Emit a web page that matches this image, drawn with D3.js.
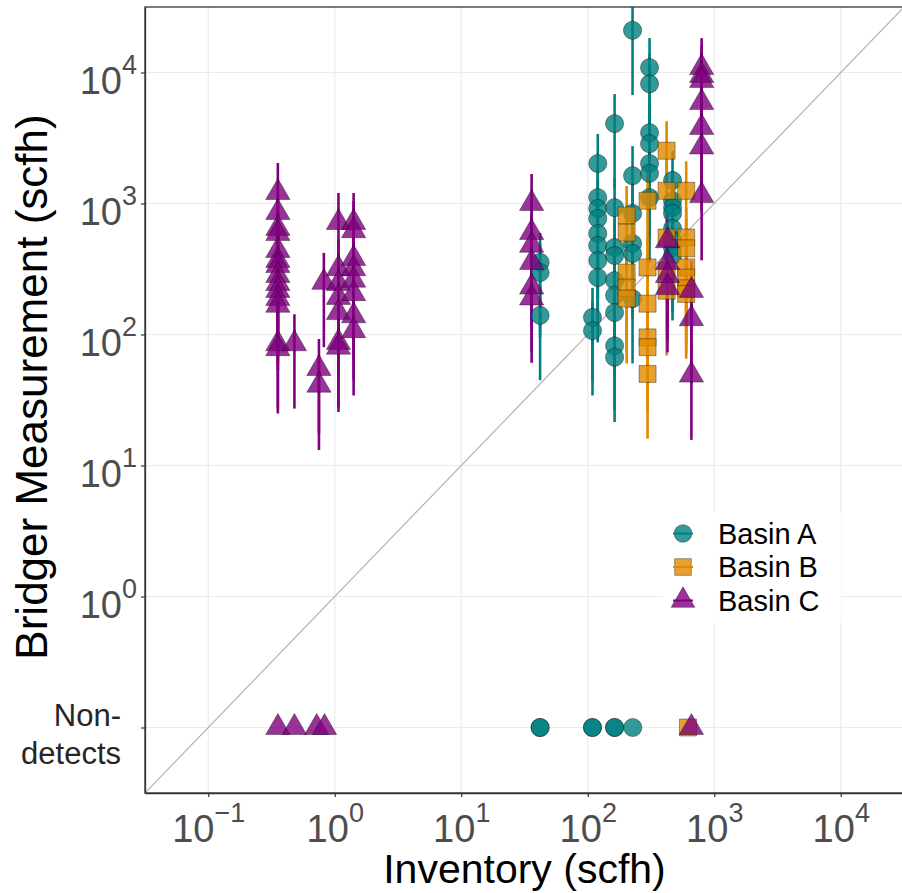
<!DOCTYPE html>
<html>
<head>
<meta charset="utf-8">
<script src="https://cdn.jsdelivr.net/npm/d3@7"></script>
<style>
  body { margin: 0; background: #fff; }
  text { font-family: "Liberation Sans", Arial, sans-serif; }
</style>
</head>
<body>
<div id="chart"></div>
<script>
// ---- data (scfh) ----
const basins = ["Basin A", "Basin B", "Basin C"]

// [inventory, Bridger measurement]
const basinA = [
  [42, 355], [42, 297], [42, 140],
  [109, 135], [109, 107],
  [120, 2020], [120, 1110], [120, 916], [120, 768], [120, 590], [120, 478], [120, 367], [120, 272],
  [163, 4070], [163, 930], [163, 461], [163, 401], [163, 258], [163, 199], [163, 147], [163, 82], [163, 67],
  [226, 21000], [226, 1630], [226, 840], [226, 495], [226, 415], [226, 188],
  [308, 10900], [308, 8200], [308, 3470], [308, 2860], [308, 2020], [308, 1700], [308, 1110],
  [468, 1500], [468, 1050], [468, 930], [468, 840], [468, 645], [468, 523], [468, 460], [468, 400]
]
const basinB = [
  [203, 810], [203, 600], [203, 297], [203, 228], [203, 188],
  [297, 1050], [297, 325], [297, 172], [297, 95], [297, 80], [297, 50],
  [420, 2530], [420, 1250], [420, 550], [420, 307], [420, 216],
  [600, 1250], [600, 550], [600, 455], [600, 325], [600, 272], [600, 225], [600, 204]
]
const basinC = [
  [0.355, 1213], [0.355, 853], [0.355, 645], [0.355, 590], [0.355, 438], [0.355, 367], [0.355, 336],
  [0.355, 282], [0.355, 245], [0.355, 217], [0.355, 188], [0.355, 167], [0.355, 85], [0.355, 78],
  [0.48, 85],
  [0.75, 55], [0.75, 41],
  [0.82, 250],
  [1.07, 716], [1.07, 318], [1.07, 245], [1.07, 192], [1.07, 147], [1.07, 87], [1.07, 80],
  [1.41, 716], [1.41, 620], [1.41, 380], [1.41, 318], [1.41, 260], [1.41, 205], [1.41, 139], [1.41, 107],
  [36, 1000], [36, 600], [36, 480], [36, 355], [36, 230], [36, 190],
  [427, 520], [427, 355], [427, 282], [427, 228],
  [660, 217], [660, 132], [660, 49],
  [795, 10900], [795, 9500], [795, 8700], [795, 5900], [795, 3800], [795, 2700], [795, 1150]
]

// inventory of sites with no detection
const nonDetectA = [42, 42, 109, 109, 163, 163, 227]
const nonDetectB = [620]
const nonDetectC = [0.355, 0.48, 0.72, 0.83, 660]

// measurement uncertainty bounds (fraction of measured rate)
const errLow = 0.32
const errHigh = 1.68

const xTicks = [0.1, 1, 10, 100, 1000, 10000]
const yTicks = [1, 10, 100, 1000, 10000]
const nonDetectLevel = 0.1

// ---- chart ----
const width = 902
const height = 893
const margin = { top: 7, bottom: 100, left: 145, right: -2 }

const colors = { "Basin A": "#008080", "Basin B": "#e08a00", "Basin C": "#800080" }
const shapes = { "Basin A": d3.symbolCircle, "Basin B": d3.symbolSquare, "Basin C": d3.symbolTriangle }
const sizes = { "Basin A": 260, "Basin B": 290, "Basin C": 255 }

const svg = d3.select("div#chart").append("svg").attr("width", width).attr("height", height)

const x = d3.scaleLog().domain([Math.pow(10, -1.5), Math.pow(10, 4.5)]).range([margin.left, width - margin.right])
const y = d3.scaleLog().domain([Math.pow(10, -1.5), Math.pow(10, 4.5)]).range([height - margin.bottom, margin.top])

svg.append("clipPath").attr("id", "panel")
  .append("rect")
  .attr("x", x.range()[0]).attr("y", y.range()[1])
  .attr("width", x.range()[1] - x.range()[0]).attr("height", y.range()[0] - y.range()[1])

// grid
const grid = svg.append("g").attr("class", "grid")
grid.selectAll("line.gx").data(xTicks).join("line")
  .attr("x1", d => x(d)).attr("x2", d => x(d))
  .attr("y1", y.range()[0]).attr("y2", y.range()[1])
  .attr("stroke", "#ebebeb").attr("stroke-width", 1.2)
grid.selectAll("line.gy").data([nonDetectLevel].concat(yTicks)).join("line")
  .attr("class", "gy")
  .attr("x1", x.range()[0]).attr("x2", x.range()[1])
  .attr("y1", d => y(d)).attr("y2", d => y(d))
  .attr("stroke", "#ebebeb").attr("stroke-width", 1.2)

const plot = svg.append("g").attr("clip-path", "url(#panel)")

// 1:1 line
plot.append("line")
  .attr("x1", x(x.domain()[0])).attr("y1", y(x.domain()[0]))
  .attr("x2", x(x.domain()[1])).attr("y2", y(x.domain()[1]))
  .attr("stroke", "#b3b3b3").attr("stroke-width", 1.2)

const series = [
  { name: "Basin A", points: basinA, nd: nonDetectA },
  { name: "Basin B", points: basinB, nd: nonDetectB },
  { name: "Basin C", points: basinC, nd: nonDetectC }
]

// error bars
series.forEach(s => {
  plot.selectAll(null).data(s.points).join("line")
    .attr("x1", d => x(d[0])).attr("x2", d => x(d[0]))
    .attr("y1", d => y(d[1] * errLow)).attr("y2", d => y(d[1] * errHigh))
    .attr("stroke", colors[s.name]).attr("stroke-width", 2.6)
})

// points
series.forEach(s => {
  const sym = d3.symbol().type(shapes[s.name]).size(sizes[s.name])
  plot.selectAll(null).data(s.points).join("path")
    .attr("d", sym)
    .attr("transform", d => `translate(${x(d[0])},${y(d[1])})`)
    .attr("fill", colors[s.name]).attr("fill-opacity", 0.8)
    .attr("stroke", "#000").attr("stroke-opacity", 0.6).attr("stroke-width", 0.6)
  plot.selectAll(null).data(s.nd).join("path")
    .attr("d", sym)
    .attr("transform", d => `translate(${x(d)},${y(nonDetectLevel)})`)
    .attr("fill", colors[s.name]).attr("fill-opacity", 0.8)
    .attr("stroke", "#000").attr("stroke-opacity", 0.6).attr("stroke-width", 0.6)
})

// panel border (top / right)
svg.append("rect")
  .attr("x", x.range()[0]).attr("y", y.range()[1])
  .attr("width", x.range()[1] - x.range()[0]).attr("height", y.range()[0] - y.range()[1])
  .attr("fill", "none").attr("stroke", "#333").attr("stroke-width", 1.3)

// axes
const xAxis = d3.axisBottom(x).tickValues(xTicks).tickSize(4).tickSizeOuter(0).tickFormat("")
const yAxis = d3.axisLeft(y).tickValues([nonDetectLevel].concat(yTicks)).tickSize(4).tickSizeOuter(0).tickFormat("")

const xAxisGroup = svg.append("g").attr("transform", `translate(0,${y.range()[0]})`).call(xAxis)
const yAxisGroup = svg.append("g").attr("transform", `translate(${x.range()[0]},0)`).call(yAxis)
;[xAxisGroup, yAxisGroup].forEach(g => {
  g.select(".domain").attr("stroke", "#333").attr("stroke-width", 1.3)
  g.selectAll(".tick line").attr("stroke", "#333").attr("stroke-width", 1.2)
})

// tick labels 10^n
function powLabel(sel, d) {
  const e = Math.round(Math.log10(d))
  sel.append("tspan").text("10")
  sel.append("tspan").attr("font-size", 27).attr("dy", -20).text(e < 0 ? "\u2212" + (-e) : e)
}
xAxisGroup.selectAll(".tick").append("text")
  .attr("y", 49).attr("text-anchor", "middle")
  .attr("font-size", 38).attr("fill", "#4d4d4d")
  .each(function (d) { powLabel(d3.select(this), d) })
yAxisGroup.selectAll(".tick").filter(d => d !== nonDetectLevel).append("text")
  .attr("x", -8).attr("y", 21).attr("text-anchor", "end")
  .attr("font-size", 38).attr("fill", "#4d4d4d")
  .each(function (d) { powLabel(d3.select(this), d) })

const nd = svg.append("text").attr("text-anchor", "end").attr("font-size", 31).attr("fill", "#262626")
nd.append("tspan").attr("x", 121).attr("y", y(nonDetectLevel) - 2).text("Non-")
nd.append("tspan").attr("x", 121).attr("y", y(nonDetectLevel) + 36).text("detects")

// axis titles
svg.append("text")
  .attr("x", (x.range()[0] + x.range()[1]) / 2).attr("y", 883)
  .attr("text-anchor", "middle").attr("font-size", 41).attr("fill", "#000")
  .text("Inventory (scfh)")
svg.append("text")
  .attr("transform", "translate(47,387) rotate(-90)")
  .attr("text-anchor", "middle").attr("font-size", 44).attr("fill", "#000")
  .text("Bridger Measurement (scfh)")

// legend
const legend = svg.append("g").attr("transform", "translate(663,512)")
legend.append("rect").attr("width", 178).attr("height", 111).attr("fill", "#fff")
const rowY = i => 21.5 + i * 33.5
basins.forEach((b, i) => {
  const item = legend.append("g").attr("transform", `translate(20,${rowY(i)})`)
  item.append("path")
    .attr("d", d3.symbol().type(shapes[b]).size(sizes[b] * 0.95))
    .attr("fill", colors[b]).attr("fill-opacity", 0.8)
    .attr("stroke", "#000").attr("stroke-opacity", 0.6).attr("stroke-width", 0.6)
  item.append("line").attr("x1", -10).attr("x2", 10)
    .attr("stroke", colors[b]).attr("stroke-width", 2)
  item.append("text").attr("x", 35).attr("dy", "0.35em")
    .attr("font-size", 29).attr("fill", "#000").text(b)
})
</script>
</body>
</html>
